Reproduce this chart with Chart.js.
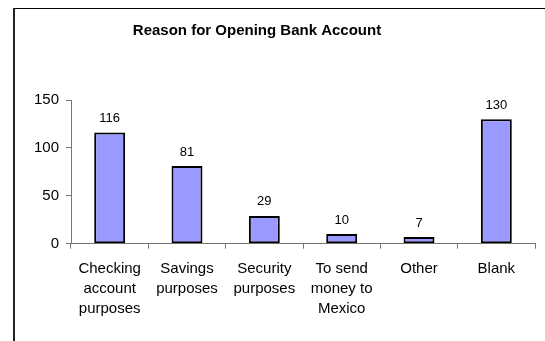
<!DOCTYPE html>
<html lang="en">
<head>
    <meta charset="UTF-8">
    <title>Reason for Opening Bank Account</title>
    <script src="https://cdn.jsdelivr.net/npm/chart.js"></script>
    <style>
        html, body { margin: 0; padding: 0; background: #fff; }
        #wrap { position: relative; width: 545px; height: 341px; overflow: hidden; }
        /* chart frame: only left and top edges are visible */
        #frame { position: absolute; left: 13px; top: 8px; width: 600px; height: 400px;
                 border-left: 2px solid #222; border-top: 1px solid #000; }
        #box { position: absolute; left: 15px; top: 9px; width: 530px; height: 332px; }
    </style>
</head>
<body>
    <div id="wrap">
        <div id="frame"></div>
        <div id="box"><canvas id="bankChart"></canvas></div>
    </div>

    <script>
        // data
        const categories = [
            ['Checking', 'account', 'purposes'],
            ['Savings', 'purposes'],
            ['Security', 'purposes'],
            ['To send', 'money to', 'Mexico'],
            ['Other'],
            ['Blank']
        ];
        const counts = [116, 81, 29, 10, 7, 130];
        const yTicks = [0, 50, 100, 150];

        const chartTitle = 'Reason for Opening Bank Account';
        const font = 'Arial, "Liberation Sans", sans-serif';

        // title sits left of the plot centre, so draw it by hand
        const titlePlugin = {
            id: 'titleText',
            afterDraw(chart) {
                const c = chart.ctx;
                c.save();
                c.font = 'bold 15px ' + font;
                c.fillStyle = '#000';
                c.textAlign = 'center';
                c.textBaseline = 'middle';
                c.fillText(chartTitle, 242, 22);
                c.restore();
            }
        };

        // value labels above each bar
        const valuePlugin = {
            id: 'valueLabels',
            afterDatasetsDraw(chart) {
                const c = chart.ctx;
                const meta = chart.getDatasetMeta(0);
                c.save();
                c.font = '13px ' + font;
                c.fillStyle = '#000';
                c.textAlign = 'center';
                c.textBaseline = 'middle';
                meta.data.forEach((bar, i) => {
                    c.fillText(String(counts[i]), bar.x, bar.y - 14);
                });
                c.restore();
            }
        };

        const ctx = document.getElementById('bankChart').getContext('2d');
        new Chart(ctx, {
            type: 'bar',
            data: {
                labels: categories,
                datasets: [{
                    data: counts,
                    backgroundColor: '#9999ff',
                    borderColor: '#000',
                    borderWidth: 2,
                    borderSkipped: false,
                    barPercentage: 0.4,
                    categoryPercentage: 1
                }]
            },
            options: {
                responsive: true,
                maintainAspectRatio: false,
                animation: false,
                layout: { padding: { left: 0, right: 10, top: 91, bottom: 0 } },
                plugins: {
                    legend: { display: false },
                    title: { display: false },
                    tooltip: { enabled: false }
                },
                scales: {
                    x: {
                        grid: {
                            offset: true,
                            drawOnChartArea: false,
                            drawTicks: true,
                            tickLength: 5,
                            color: '#777'
                        },
                        border: { color: '#777', width: 1 },
                        ticks: {
                            color: '#000',
                            font: { family: font, size: 15, lineHeight: 1.33 },
                            padding: 10,
                            maxRotation: 0,
                            autoSkip: false
                        },
                        afterFit(scale) { scale.height = 97.3; }
                    },
                    y: {
                        min: 0,
                        max: 150,
                        afterBuildTicks(scale) {
                            scale.ticks = yTicks.map(v => ({ value: v }));
                        },
                        grid: {
                            drawOnChartArea: false,
                            drawTicks: true,
                            tickLength: 5,
                            color: '#777'
                        },
                        border: { color: '#777', width: 1 },
                        ticks: {
                            color: '#000',
                            font: { family: font, size: 15 },
                            padding: 7
                        },
                        afterFit(scale) { scale.width = 56; }
                    }
                }
            },
            plugins: [titlePlugin, valuePlugin]
        });
    </script>
</body>
</html>
